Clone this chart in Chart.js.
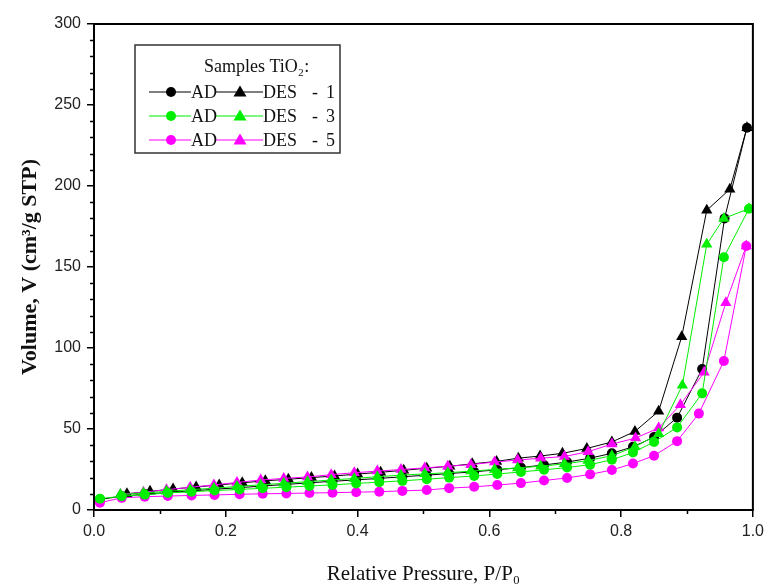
<!DOCTYPE html>
<html>
<head>
<meta charset="utf-8">
<script src="https://cdn.jsdelivr.net/npm/chart.js@4/dist/chart.umd.min.js"></script>
<style>
html,body{margin:0;padding:0;background:#fff;}
#wrap{width:769px;height:585px;position:relative;}
</style>
</head>
<body>
<div id="wrap"><canvas id="c" width="769" height="585"></canvas></div>
<script>
// ---- data ----
const pAD1 = [0.009,0.042,0.077,0.112,0.148,0.183,0.221,0.256,0.292,0.327,0.362,0.398,0.433,0.468,0.505,0.539,0.577,0.612,0.648,0.683,0.718,0.753,0.786,0.818,0.850,0.885,0.923,0.957,0.991];
const vAD1 = [6.5,8.5,9.8,10.8,11.8,12.8,13.8,14.8,15.8,16.8,17.7,18.6,19.5,20.5,21.5,22.5,23.6,24.8,26.2,27.8,29.6,32,35,39,45,57,87,180,236];
const pDES1 = [0.991,0.965,0.930,0.892,0.857,0.821,0.786,0.748,0.711,0.677,0.644,0.611,0.574,0.540,0.505,0.470,0.435,0.400,0.365,0.330,0.295,0.260,0.225,0.190,0.155,0.120,0.085,0.050];
const vDES1 = [236,198,185,107,61,48.5,42,38,35,33.3,32,30,28.5,27,25.8,24.5,23.3,22.2,21,20,19,18,16.8,15.5,14.2,13,11.5,10];

const pAD3 = [0.009,0.042,0.077,0.112,0.148,0.183,0.221,0.256,0.292,0.327,0.362,0.398,0.433,0.468,0.505,0.539,0.577,0.612,0.648,0.683,0.718,0.753,0.786,0.818,0.850,0.885,0.923,0.956,0.994];
const vAD3 = [7,8.5,9.5,10.5,11.3,12,12.7,13.4,14.1,14.8,15.5,16.4,17.2,18,19,20,21,22.2,23.5,24.8,26.2,28,31,35.5,42,51,72,156,186];
const pDES3 = [0.994,0.956,0.930,0.893,0.857,0.821,0.786,0.750,0.714,0.678,0.643,0.608,0.572,0.537,0.502,0.466,0.430,0.395,0.360,0.324,0.288,0.253,0.217,0.182,0.146,0.110,0.075,0.040];
const vDES3 = [186,180,164,77,47,39,33.5,30.5,28.5,27,26,25,24,23,22.3,21.5,20.5,19.5,18.5,17.5,16.5,15.5,14.5,13.5,12.5,11.5,10.5,9.5];

const pAD5 = [0.009,0.042,0.077,0.112,0.148,0.183,0.221,0.256,0.292,0.327,0.362,0.398,0.433,0.468,0.505,0.539,0.577,0.612,0.648,0.683,0.718,0.753,0.786,0.818,0.850,0.885,0.918,0.956,0.990];
const vAD5 = [4.5,7.5,8.2,8.6,9,9.3,9.7,10,10.2,10.5,10.7,11,11.3,11.8,12.3,13.5,14.3,15.4,16.6,18.2,19.8,22,24.7,28.7,33.5,42.5,59.5,92,163];
const pDES5 = [0.990,0.959,0.926,0.890,0.857,0.822,0.786,0.750,0.714,0.678,0.643,0.608,0.572,0.537,0.502,0.466,0.430,0.395,0.360,0.324,0.288,0.253,0.217,0.182,0.146,0.110,0.075,0.040];
const vDES5 = [163,128,85,65,50.6,44.4,40.7,36,33,32,30.8,29.6,28,27,26,25,24,23,21.8,20.4,19.5,18.5,17,15.5,14,12.5,11,9.5];

const sampleNames = ['1','3','5'];
const sampleColors = ['#000000','#00ee00','#ff00ff'];
const xTitle = 'Relative Pressure, P/P\u2080';
const yTitle = 'Volume, V (cm\u00b3/g STP)';
const legendTitle = 'Samples TiO\u2082:';

const toXY = (px, vy) => px.map((p, i) => ({x: p, y: vy[i]}));

function ds(label, px, vy, color, style, order) {
  return {
    label, data: toXY(px, vy), showLine: true,
    borderColor: color, backgroundColor: color, borderWidth: 1,
    pointStyle: style, pointRadius: style === 'triangle' ? 6.5 : 5,
    pointBorderWidth: 0, pointBorderColor: color, pointHoverRadius: 5,
    order
  };
}

const datasets = [
  ds('AD - 1', pAD1, vAD1, sampleColors[0], 'circle', 3),
  ds('DES - 1', pDES1, vDES1, sampleColors[0], 'triangle', 3),
  ds('AD - 5', pAD5, vAD5, sampleColors[2], 'circle', 2),
  ds('DES - 5', pDES5, vDES5, sampleColors[2], 'triangle', 2),
  ds('AD - 3', pAD3, vAD3, sampleColors[1], 'circle', 1),
  ds('DES - 3', pDES3, vDES3, sampleColors[1], 'triangle', 1)
];

const framePlugin = {
  id: 'frame',
  afterDraw(chart) {
    const {ctx, chartArea: a, scales} = chart;
    ctx.save();
    ctx.strokeStyle = '#000';
    ctx.lineWidth = 2;
    ctx.strokeRect(a.left, a.top, a.right - a.left, a.bottom - a.top);
    // minor ticks
    ctx.lineWidth = 1.5;
    ctx.beginPath();
    for (let v = 10; v < 300; v += 10) {
      if (v % 50 === 0) continue;
      const y = Math.round(scales.y.getPixelForValue(v)) + 0.5;
      ctx.moveTo(a.left, y); ctx.lineTo(a.left - 4, y);
    }
    for (let v = 0.1; v < 1; v += 0.2) {
      const x = Math.round(scales.x.getPixelForValue(v)) + 0.5;
      ctx.moveTo(x, a.bottom); ctx.lineTo(x, a.bottom + 4);
    }
    ctx.stroke();
    // legend
    const bx = 135, by = 45, bw = 205, bh = 108;
    ctx.fillStyle = '#fff';
    ctx.fillRect(bx, by, bw, bh);
    ctx.strokeStyle = '#333';
    ctx.lineWidth = 1.5;
    ctx.strokeRect(bx, by, bw, bh);
    ctx.fillStyle = '#111';
    ctx.font = '18px "Liberation Serif", serif';
    ctx.textBaseline = 'middle';
    ctx.textAlign = 'left';
    ctx.fillText(legendTitle, 204, 67);
    sampleNames.forEach((n, i) => {
      const y = 92 + i * 24;
      const c = sampleColors[i];
      ctx.strokeStyle = c; ctx.fillStyle = c; ctx.lineWidth = 1.2;
      ctx.beginPath(); ctx.moveTo(149, y); ctx.lineTo(191, y); ctx.stroke();
      ctx.beginPath(); ctx.arc(171, y, 5, 0, Math.PI * 2); ctx.fill();
      ctx.beginPath(); ctx.moveTo(216, y); ctx.lineTo(263, y); ctx.stroke();
      ctx.beginPath(); ctx.moveTo(240, y - 6.5); ctx.lineTo(246.5, y + 4.5); ctx.lineTo(233.5, y + 4.5); ctx.closePath(); ctx.fill();
      ctx.fillStyle = '#111';
      ctx.fillText('AD', 191, y + 1);
      ctx.fillText('DES', 263, y + 1);
      ctx.fillText('-', 312, y + 1);
      ctx.fillText(n, 326, y + 1);
    });
    ctx.restore();
  }
};

new Chart(document.getElementById('c'), {
  type: 'scatter',
  data: {datasets},
  options: {
    responsive: false,
    animation: false,
    events: [],
    layout: {padding: {top: 24, right: 15, left: 0, bottom: 0}},
    plugins: {legend: {display: false}, tooltip: {enabled: false}},
    scales: {
      x: {
        type: 'linear', min: 0, max: 1,
        afterFit(s) { s.height = 75; },
        ticks: {stepSize: 0.2, padding: 5, color: '#222', font: {family: '"Liberation Sans", Arial, sans-serif', size: 16},
          callback: v => v.toFixed(1)},
        grid: {drawOnChartArea: false, drawTicks: true, tickLength: 7, color: '#000', lineWidth: 1.5},
        border: {display: true, color: '#000', width: 2},
        title: {display: true, text: xTitle, color: '#111', padding: {top: 0, bottom: 0},
          font: {family: '"Liberation Serif", serif', size: 21, lineHeight: 1.0}}
      },
      y: {
        type: 'linear', min: 0, max: 300,
        afterFit(s) { s.width = 94; },
        ticks: {stepSize: 50, padding: 6, color: '#222', font: {family: '"Liberation Sans", Arial, sans-serif', size: 16}},
        grid: {drawOnChartArea: false, drawTicks: true, tickLength: 7, color: '#000', lineWidth: 1.5},
        border: {display: true, color: '#000', width: 2},
        title: {display: true, text: yTitle, color: '#111', padding: {top: 19, bottom: 0},
          font: {family: '"Liberation Serif", serif', size: 22, weight: 'bold', lineHeight: 1.0}}
      }
    }
  },
  plugins: [framePlugin]
});
</script>
</body>
</html>
